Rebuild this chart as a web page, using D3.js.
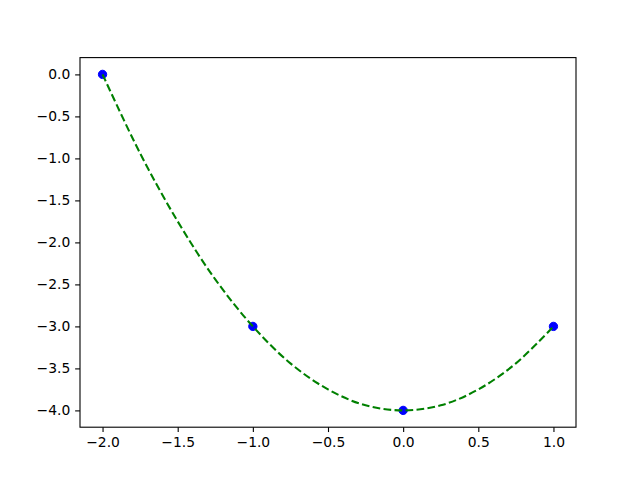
<!DOCTYPE html>
<html><head><meta charset="utf-8">
<script src="https://cdn.jsdelivr.net/npm/d3@7"></script>
<style>body{margin:0;background:#fff}svg{display:block}</style>
</head><body>
<script>
// Observed points
const pointX = [-2, -1, 0, 1];
const pointY = [0, -3, -4, -3];
// Dashed fitted curve
const curveX = [-2, -1.75, -1.5, -1.25, -1, -0.75, -0.5, -0.25, 0, 0.25, 0.5, 0.75, 1];
const curveY = [0, -0.94, -1.75, -2.44, -3, -3.44, -3.75, -3.94, -4, -3.94, -3.75, -3.44, -3];
const xTicks = [-2.0, -1.5, -1.0, -0.5, 0.0, 0.5, 1.0];
const yTicks = [0.0, -0.5, -1.0, -1.5, -2.0, -2.5, -3.0, -3.5, -4.0];

const W = 640, H = 480;
const L = 80, R = 576, T = 57.6, B = 427.2;
const svg = d3.select("body").append("svg").attr("width", W).attr("height", H);
const x = d3.scaleLinear().domain([-2.15, 1.15]).range([L, R]);
const y = d3.scaleLinear().domain([-4.2, 0.2]).range([B, T]);

const font = "DejaVu Sans, sans-serif";
const xAxis = svg.append("g").attr("transform", `translate(0,${B})`)
  .call(d3.axisBottom(x).tickValues(xTicks).tickFormat(d3.format(".1f")).tickSizeOuter(0).tickSize(4.86).tickPadding(4.86));
const yAxis = svg.append("g").attr("transform", `translate(${L},0)`)
  .call(d3.axisLeft(y).tickValues(yTicks).tickFormat(d3.format(".1f")).tickSizeOuter(0).tickSize(4.86).tickPadding(4.86));
[xAxis, yAxis].forEach(a => {
  a.select(".domain").remove();
  a.selectAll("text").attr("font-family", font).attr("font-size", "13.89px").attr("fill", "#000");
  a.selectAll("line").attr("stroke", "#000").attr("stroke-width", 1.1);
});
yAxis.selectAll("text").text(d => d3.format(".1f")(d).replace("-", "\u2212"));
xAxis.selectAll("text").text(d => d3.format(".1f")(d).replace("-", "\u2212"));

const pts = pointX.map((d, i) => [d, pointY[i]]);
svg.append("g").selectAll("circle").data(pts).join("circle")
  .attr("cx", d => x(d[0])).attr("cy", d => y(d[1])).attr("r", 4.17)
  .attr("fill", "#0000ff").attr("stroke", "#0000ff").attr("stroke-width", 1);

const cpts = curveX.map((d, i) => [d, curveY[i]]);
svg.append("path").datum(cpts)
  .attr("d", d3.line().x(d => x(d[0])).y(d => y(d[1])).curve(d3.curveCatmullRom))
  .attr("fill", "none").attr("stroke", "#008000").attr("stroke-width", 2.08)
  .attr("stroke-dasharray", "7.7,3.33");

svg.append("rect").attr("x", L).attr("y", T).attr("width", R - L).attr("height", B - T)
  .attr("fill", "none").attr("stroke", "#000").attr("stroke-width", 1.1);
</script>
</body></html>
